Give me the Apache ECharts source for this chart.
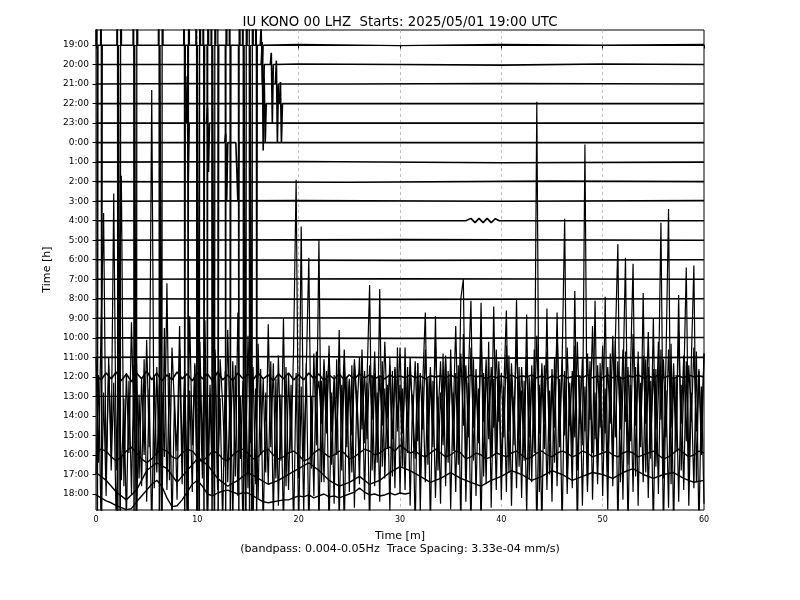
<!DOCTYPE html>
<html><head><meta charset="utf-8">
<script src="https://cdn.jsdelivr.net/npm/echarts@6/dist/echarts.min.js"></script>
<style>html,body{margin:0;padding:0;background:#fff}#c{width:800px;height:600px}</style>
</head><body><div id="c"></div>
<script>
// Hour labels of the traces (top to bottom)
const hourLabels = ['19:00','20:00','21:00','22:00','23:00','0:00','1:00','2:00','3:00','4:00','5:00','6:00',
  '7:00','8:00','9:00','10:00','11:00','12:00','13:00','14:00','15:00','16:00','17:00','18:00'];
const xTicks = [0,10,20,30,40,50,60];
const titleText = 'IU KONO 00 LHZ  Starts: 2025/05/01 19:00 UTC';
const xName = 'Time [m]\n(bandpass: 0.004-0.05Hz  Trace Spacing: 3.33e-04 mm/s)';
const yName = 'Time [h]';

// Trace values in units of trace spacing (positive = up), [minute, value]
const trace19h = [[0,0],
  [0.08,30],[0.13,-30],[0.2,0],[0.45,0],[0.5,30],[0.55,-30],[0.62,0],
  [2.05,0],[2.1,30],[2.15,-30],[2.22,0],[2.35,0],[2.4,-30],[2.45,30],[2.52,0],
  [3.65,0],[3.7,30],[3.75,-30],[3.82,0],[3.95,0],[4.0,-30],[4.05,30],[4.12,0],
  [6.15,0],[6.2,30],[6.25,-30],[6.32,0],[6.45,0],[6.5,-30],[6.55,30],[6.62,0],
  [8.65,0],[8.7,30],[8.75,-30],[8.82,0],[9.05,0],[9.1,-30],[9.15,30],[9.22,0],
  [9.85,0],[9.9,30],[9.95,-30],[10.02,0],[10.15,0],[10.2,-30],[10.25,30],[10.32,0],
  [10.55,0],[10.6,30],[10.65,-30],[10.72,0],[10.95,0],[11.0,-30],[11.05,30],[11.12,0],
  [11.35,0],[11.4,30],[11.45,-30],[11.52,0],[11.65,0],[11.7,-30],[11.75,30],[11.82,0],
  [11.95,0],[12.0,30],[12.05,-30],[12.12,0],[12.75,0],[12.8,-30],[12.85,30],[12.92,0],
  [13.15,0],[13.2,30],[13.25,-30],[13.32,0],[14.05,0],[14.1,-30],[14.15,30],[14.22,0],
  [14.45,0],[14.5,30],[14.55,-30],[14.62,0],[14.75,0],[14.8,-30],[14.85,30],[14.92,0],
  [15.05,0],[15.1,30],[15.15,-30],[15.22,0],[15.35,0],[15.4,-30],[15.45,30],[15.52,0],
  [15.75,0],[15.8,30],[15.85,-30],[15.92,0],
  [16.2,0],[16.3,1.2],[16.4,-2],[16.5,0],[20,0.03],[30,-0.03],[40,0.03],[50,0],[60,0.03]];
const trace20h = [[0,0],[16.3,0],[16.4,1.15],[16.5,-4.4],[16.6,0],[17.2,0],[17.3,0.6],[17.4,-3],[17.5,0],[20,0.03],[30,0],[40,-0.03],[50,0.03],[60,0]];
const trace21h = [[0,0],[10,0.03],[17.7,0],[17.8,1.2],[17.9,-3],[18.0,0],[25,0],[40,0.03],[60,0]];
const trace22h = [[0,0],[16.5,0],[16.6,1.3],[16.7,-2],[16.8,0],[18.1,0],[18.2,1.1],[18.3,-2],[18.4,0],[60,0]];
const trace23h = [[0,0],[8.9,0],[9.0,2.4],[9.1,-3],[9.2,0],[10.9,0],[11.0,0.8],[11.1,-2.5],[11.2,0],[60,0]];
const trace00h = [[0,0],[12.7,0],[12.8,0.45],[12.9,-3],[13.0,0],[13.8,0],[13.9,0.1],[14.0,-3],[14.1,0],[60,0]];
const trace01h = [[0,0],[20,0.03],[40,-0.03],[60,0]];
const trace02h = [[0,0],[25,-0.03],[45,0.03],[60,0]];
const trace03h = [[0,0],[20,0.03],[40,0],[60,0.03]];
const trace04h = [[0,0],[36.5,0],[37,0.12],[37.4,-0.1],[37.8,0.12],[38.2,-0.1],[38.6,0.12],[39,-0.1],[39.4,0.1],[39.8,0],[60,0]];
const trace05h = [[0,0],[30,0.03],[60,0]];
const trace06h = [[0,0],[30,-0.03],[60,0]];
const trace07h = [[0,0],[30,0.03],[60,0]];
const trace08h = [[0,0],[30,-0.03],[60,0]];
const trace09h = [[0,0],[30,0.03],[60,0]];
const trace10h = [[0,0],[30,-0.03],[60,0.02]];
const trace11h = [[0,0],[20,0.04],[40,-0.04],[60,0]];
// 12:00 trace, one value every 0.5 min
const trace12h = [0.1,-0.15,0.2,-0.1,0.25,-0.2,0.15,-0.25,0.2,-0.1,0.3,-0.15,0.2,-0.2,0.1,-0.15,0.25,-0.1,0.15,-0.2,
  0.2,-0.1,0.15,-0.2,0.25,-0.15,0.1,-0.2,0.2,-0.1,0.15,-0.15,0.2,-0.1,0.1,-0.2,0.15,-0.1,0.2,-0.15,
  0.1,-0.15,0.2,-0.1,0.15,-0.2,0.1,-0.1,0.15,-0.15,0.1,-0.1,0.15,-0.05,0.1,-0.1,0.05,-0.1,0.1,-0.05,
  0.05,-0.05,0.1,-0.05,0.05,-0.1,0.05,0,0.05,-0.05,0.1,-0.05,0.05,-0.05,0.1,0,0.05,-0.1,0.05,-0.05,
  0.05,-0.05,0.1,-0.05,0.05,0,0.1,-0.05,0.05,-0.1,0.05,-0.05,0.1,-0.05,0,0.05,-0.05,0.1,-0.05,0.05,
  -0.05,0.1,-0.05,0.05,-0.1,0.05,0,0.1,-0.05,0.05,-0.05,0.1,-0.05,0.05,-0.1,0.05,-0.05,0.1,0,0.05,0];
// 13:00 trace: quiet until 22 min, then one value every 0.25 min from 22 min
const trace13hQuiet = [[0,0],[10,0.03],[21.75,0]];
const trace13hNoise = [0.8,-1.4,1.9,-0.9,2.2,-1.8,1.1,-2.1,1.5,-1.2,2.4,-1.5,0.9,-2.0,1.7,-1.0,2.0,-1.7,1.3,-2.2,
  1.6,-1.2,2.3,-1.9,1.0,-1.5,2.8,-1.1,1.6,-2.2,1.4,-1.3,2.5,-1.9,1.0,-1.6,2.0,-1.2,1.8,-2.3,
  1.2,-1.7,2.4,-1.4,1.5,-2.0,2.9,-1.2,1.8,-1.8,2.1,-2.4,1.3,-1.1,3.6,-1.9,2.2,-1.5,1.6,-2.1,
  2.5,-1.6,1.4,-1.9,3.0,-1.3,1.9,-2.2,1.5,-1.6,2.4,-1.3,1.2,-2.1,2.6,-1.8,1.7,-1.2,2.9,-2.0,
  1.5,-1.7,2.1,-2.1,1.1,-1.5,3.1,-1.9,1.7,-1.3,2.3,-2.3,1.4,-1.6,3.4,-1.3,1.9,-2.0,2.5,-1.5,
  1.3,-2.1,2.8,-1.4,1.9,-1.8,2.2,-1.2,3.6,-2.2,1.6,-1.6,2.6,-1.9,1.5,-1.4,3.1,-2.1,1.8,-1.7,
  2.4,-1.3,1.5,-2.3,3.2,-1.5,1.7,-1.9,2.1,-1.4,3.3,-2.4,1.4,-1.7,2.8,-1.2,1.9,-2.1,2.4,-1.6,
  1.7,-1.9,3.3,-1.4,2.1,-2.3,1.6,-1.3,2.5,-1.8,1.3,-2.0,2.2];
// 14:00 trace, one value every 0.25 min
const trace14h = [3.0,-2.4,4.5,10.4,-3.1,2.6,-1.5,11.4,-2.8,3.4,12.3,-3.6,2.2,-1.9,4.8,-0.8,2.7,-3.2,1.9,-2.0,
  3.9,-1.6,16.7,-3.7,2.5,-2.9,1.2,-2.1,6.8,-3.3,3.5,0.4,-1.8,4.6,-2.4,2.3,-3.6,5.1,-1.5,2.6,
  -2.9,3.8,-1.9,4.9,-3.4,1.6,-2.2,3.4,-3.8,2.9,0.6,-2.6,4.4,-1.7,2.8,-3.1,5.3,-2.2,1.8,-3.3,
  4.1,-1.4,2.5,-3.5,3.7,-2.0,1.9,-2.9,4.7,-1.6,2.7,-3.2,3.1,-2.3,5.0,-3.6,2.2,-1.8,3.5,12.1,
  -3.2,9.7,-2.2,2.3,8.1,-2.7,3.2,-1.5,9.0,-3.4,2.1,-0.9,3.6,-2.5,1.5,-2.0,4.4,-2.8,2.6,-1.6,
  1.8,-2.9,2.9,0.8,-2.3,3.4,-1.4,1.9,6.7,-2.8,2.2,-2.4,6.5,-2.6,1.4,-1.7,3.0,-3.1,2.5,-0.8,
  1.6,-2.6,3.5,-1.9,2.3,0.5,-2.2,2.7,-3.3,1.8,5.3,-2.5,2.0,-1.6,5.1,-2.8,1.2,-1.5,2.9,-2.4,
  3.4,-1.8,2.2,-2.5,6.0,7.0,-3.0,2.1,5.9,-2.3,1.7,-1.4,5.8,-3.1,2.4,0.3,-2.1,5.6,-1.9,2.8,
  -2.7,1.5,5.4,-2.9,2.0,-1.5,6.0,-2.6,1.3,-2.3,5.2,-3.2,2.6,-1.9,16.1,-3.9,2.2,-1.7,5.5,-3.0,
  1.9,-2.4,5.3,-1.6,2.8,10.1,-3.3,1.7,-2.0,6.4,-2.8,0.9,-1.5,13.9,-3.6,2.4,-1.9,5.9,-2.6,1.8,
  -1.8,6.1,-2.9,2.0,-2.2,3.8,8.8,-3.4,1.6,8.1,-2.5,2.4,7.8,-3.1,3.3,-1.6,6.3,-2.9,2.5,-2.2,
  5.0,-2.6,1.2,9.9,-3.2,2.9,10.6,-3.5,2.1,-1.8,6.2,-2.8,1.6,7.6,-3.0,2.8,7.7,-3.4,2.4,-2.0,3.2];
// 15:00 trace, one value every 0.25 min
const trace15h = [-2.0,3.1,-4.6,2.2,-3.1,4.0,-1.8,2.7,-4.8,3.3,-2.3,1.9,-4.4,2.8,-3.0,3.6,-4.7,2.1,-2.6,3.9,
  -3.4,2.4,-4.9,3.0,-1.9,2.6,-4.5,5.5,-2.8,3.2,-4.6,2.0,-3.3,4.4,-2.5,3.1,-4.8,2.3,-2.9,3.7,
  -4.4,2.7,-2.2,3.5,-4.9,2.1,-3.0,4.2,-2.6,1.9,-4.7,3.3,-2.4,2.8,-4.5,3.6,-3.1,2.0,-4.8,3.0,
  -2.7,4.1,-4.6,2.4,-3.2,3.4,-4.9,2.2,-2.5,3.8,-4.3,2.9,-3.6,2.1,-4.8,3.5,-2.8,2.6,-5.0,3.2,
  -4.6,2.5,-3.9,3.7,-5.0,2.0,-3.1,4.3,-4.7,2.8,-2.4,3.3,-4.9,2.2,-3.5,3.9,-4.6,2.6,-5.0,3.0,
  -2.9,3.6,-3.7,2.3,-2.5,4.0,-3.3,2.7,-4.8,3.1,-2.6,2.2,-3.4,3.8,-2.2,2.6,-3.9,3.3,-2.7,4.5,
  -3.0,2.4,-2.8,3.5,-3.6,2.1,-4.9,3.7,-3.9,2.5,-2.4,3.0,-4.7,2.8,-3.2,2.0,-3.5,4.2,-2.6,3.3,
  -3.8,2.2,-2.9,3.6,-4.8,5.2,-3.4,2.7,-4.9,3.9,-3.1,2.4,-4.7,3.2,-2.5,4.8,-3.7,2.9,-2.8,3.4,
  -3.3,2.5,-2.9,4.1,-3.6,2.0,-2.7,3.5,-3.2,2.8,-4.0,3.0,-2.4,4.4,-5.0,2.6,-4.9,3.6,-2.8,2.3,
  -3.4,4.0,-2.6,2.9,-4.8,3.3,-3.0,2.1,-2.7,4.6,-4.9,3.1,-3.6,2.5,-2.9,3.8,-3.3,2.2,-2.5,3.7,
  -3.1,2.4,-3.8,4.2,-2.6,4.9,-4.9,3.0,-3.3,4.3,-4.8,2.6,-2.9,3.5,-3.6,2.7,-2.4,3.9,-3.2,2.8,
  -4.9,3.4,-3.0,4.4,-4.8,2.3,-3.7,4.7,-5.0,3.1,-3.4,2.6,-2.8,3.8,-3.6,2.2,-2.7,4.3,-5.0,2.5,-3.5];
// 16:00 trace, one value every 0.5 min
const trace16h = [0.1,0.3,0.2,-0.1,-0.3,-0.1,0.2,0.4,0.1,-0.2,-0.4,-0.2,0.1,0.3,0.2,-0.1,-0.2,0.1,0.3,0.2,
  -0.1,-0.3,-0.1,0.2,0.1,-0.2,-0.3,0,0.2,0.3,0.1,-0.2,-0.1,0.2,0.3,0,-0.2,-0.1,0.1,0.2,
  0,-0.3,-0.2,0.1,0.3,0.1,-0.1,0,0.2,0.1,-0.2,-0.1,0.1,0.3,0.2,0,0.1,0.3,0.4,0.2,
  0.5,0.3,0.1,0.2,0,-0.1,0.1,0.3,0.1,-0.1,0,0.2,0.1,-0.2,-0.1,0.1,0,-0.2,-0.1,0.1,
  0,-0.1,0.1,0.2,0,-0.2,-0.1,0.1,0.2,0,-0.1,0.1,0.2,0.1,-0.1,0,0.2,0.1,-0.1,0,
  0.1,0.2,0,-0.1,0.1,0.2,0.1,-0.1,0,0.1,0.2,0,-0.2,-0.1,0.1,0.3,0.1,-0.1,0,0.2,0.1];
// 17:00 trace, one value every minute
const trace17h = [0.1,-0.3,-0.9,-1.3,-0.8,0.2,0.6,0.3,-0.4,0.2,0.8,0.5,-0.2,-0.6,-0.3,0.1,-0.2,-0.5,-0.3,0.0,
  0.3,0.6,0.2,-0.3,-0.6,-0.4,-0.1,-0.5,-0.3,0.1,0.4,0.2,-0.1,-0.4,-0.2,0.1,-0.2,-0.4,-0.6,-0.3,
  -0.1,0.2,0.0,-0.3,-0.1,0.2,0.0,-0.3,-0.1,0.1,0.0,-0.2,0.1,0.3,0.0,-0.2,0.0,0.1,-0.2,-0.4,-0.3];
// 18:00 trace, one value every 0.5 min, data ends near 31 min
const trace18h = [-0.05,-0.2,-0.35,-0.45,-0.6,-0.7,-0.8,-0.75,-0.4,-0.1,0.2,0.5,0.7,0.4,-0.2,-0.65,-0.6,-0.3,0.1,0.5,
  0.7,0.4,0,-0.1,0.05,0.15,0.2,0.1,0,0.05,0.05,-0.1,-0.25,-0.4,-0.45,-0.4,-0.35,-0.3,-0.3,-0.2,
  -0.1,-0.15,-0.05,-0.2,-0.1,0,-0.15,-0.1,-0.2,-0.1,0,0.1,0.3,0.1,-0.05,0,-0.1,-0.05,0.05,-0.05,0.05,0,0.05];

function sampled(values, step, start){ start = start || 0; return values.map((v,k)=>[start + k*step, v]); }
const traces = [trace19h, trace20h, trace21h, trace22h, trace23h, trace00h, trace01h, trace02h, trace03h, trace04h,
  trace05h, trace06h, trace07h, trace08h, trace09h, trace10h, trace11h,
  sampled(trace12h,0.5), trace13hQuiet.concat(sampled(trace13hNoise,0.25,22)), sampled(trace14h,0.25), sampled(trace15h,0.25),
  sampled(trace16h,0.5), sampled(trace17h,1), sampled(trace18h,0.5)];
const widths = traces.map((t,i)=> (i===18||i===19||i===20) ? 1.2 : (i>=21 ? 1.4 : (i===0 ? 1.3 : 1.6)));

const series = traces.map((tr,i)=>({
  type:'line', xAxisIndex:0, yAxisIndex:0, symbol:'none', silent:true, animation:false,
  clip:true, lineStyle:{color:'#000', width:widths[i]},
  data: tr.map(p=>[p[0], i - p[1]])
}));
series.push({type:'line', xAxisIndex:1, yAxisIndex:1, data:[], symbol:'none'});

const chart = echarts.init(document.getElementById('c'), null, {renderer:'canvas'});
const FONT = 'DejaVu Sans';
chart.setOption({
  animation:false,
  backgroundColor:'#fff',
  textStyle:{fontFamily:FONT, color:'#000'},
  title:{text:titleText, left:'center', top:11, textStyle:{fontFamily:FONT, fontSize:13.3, fontWeight:'normal', color:'#000'}},
  grid:[
    {left:96, right:96, top:30, bottom:90, show:true, borderColor:'#000', borderWidth:1, backgroundColor:'transparent'},
    {left:96, right:96, top:35.24, bottom:96.26, show:false}
  ],
  xAxis:[
    {type:'value', gridIndex:0, min:0, max:60, interval:10,
     name:xName, nameLocation:'middle', nameGap:20,
     nameTextStyle:{fontFamily:FONT, fontSize:11.1, lineHeight:12.5, color:'#000', align:'center', verticalAlign:'top'},
     axisLine:{show:true, lineStyle:{color:'#000', width:1}},
     axisTick:{show:true, length:3.5, lineStyle:{color:'#000'}},
     axisLabel:{fontFamily:FONT, fontSize:8, color:'#000', margin:6, formatter:v=>xTicks.indexOf(v)>=0?String(v):''},
     splitLine:{show:true, showMinLine:false, showMaxLine:false, lineStyle:{color:'#b0b0b0', type:[3,3], width:0.8}}},
    {type:'value', gridIndex:1, min:0, max:60, show:false}
  ],
  yAxis:[
    {type:'value', gridIndex:0, min:-0.77, max:23.82, inverse:true,
     axisLine:{show:false}, axisTick:{show:false}, axisLabel:{show:false}, splitLine:{show:false}},
    {type:'category', gridIndex:1, data:hourLabels, inverse:true, boundaryGap:true,
     name:yName, nameLocation:'middle', nameGap:40, nameRotate:90,
     nameTextStyle:{fontFamily:FONT, fontSize:11.1, color:'#000'},
     axisLine:{show:false},
     axisTick:{show:true, alignWithLabel:true, length:3.5, lineStyle:{color:'#000'}},
     axisLabel:{fontFamily:FONT, fontSize:9, color:'#000', margin:7, interval:0},
     splitLine:{show:false}}
  ],
  series:series
});
</script></body></html>
